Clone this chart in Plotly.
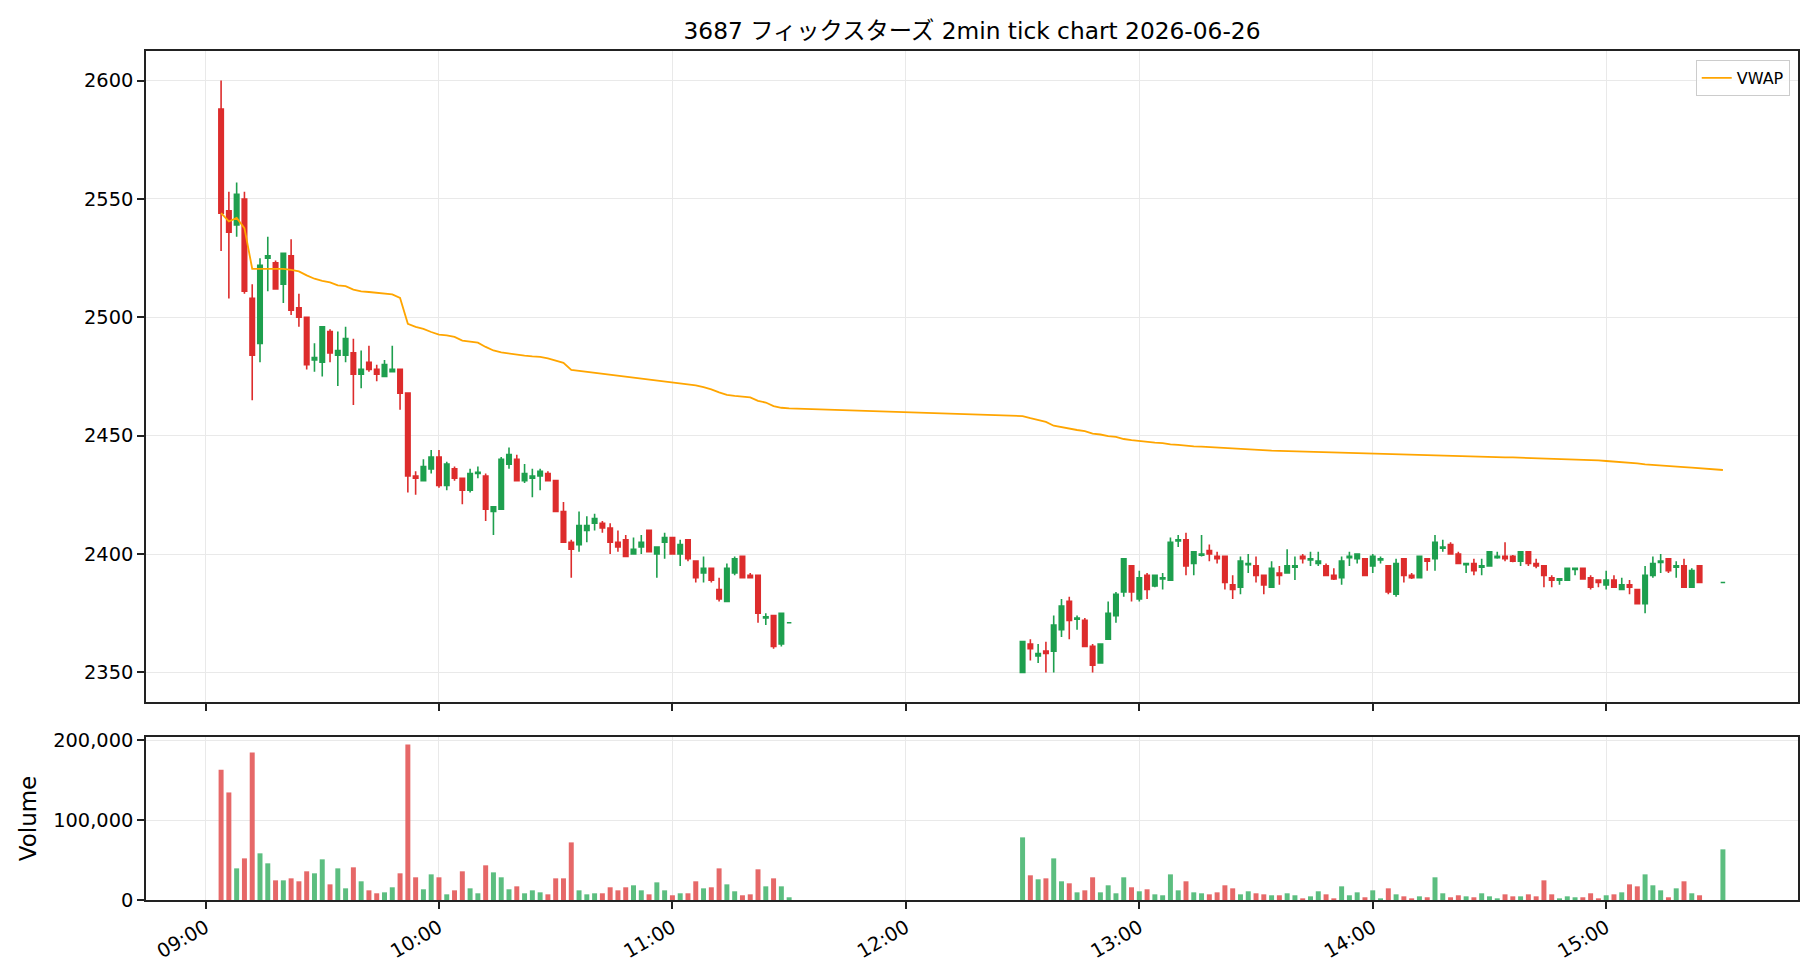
import plotly.graph_objects as go
import pandas as pd

DATE = "2026-06-26"
TITLE = "3687 フィックスターズ 2min tick chart 2026-06-26"

# --- session time stamps (2-minute bars) ---
morning_times = list(pd.date_range(f"{DATE} 09:04", f"{DATE} 11:30", freq="2min"))
afternoon_times = list(pd.date_range(f"{DATE} 12:30", f"{DATE} 15:24", freq="2min")) + [pd.Timestamp(f"{DATE} 15:30")]

# --- morning OHLC ---
m_open = [2588, 2545, 2539, 2550, 2508, 2489, 2525, 2523, 2514, 2526,
          2504, 2500, 2482, 2481, 2494, 2484, 2484, 2485, 2476, 2481,
          2478, 2475, 2477, 2478, 2468, 2433, 2431, 2436, 2441, 2429,
          2436, 2432, 2427, 2434, 2433, 2418, 2419, 2438, 2440, 2431,
          2432, 2433, 2434, 2431, 2418, 2405, 2404, 2410, 2413, 2413,
          2411, 2405, 2406, 2400, 2403, 2410, 2400, 2405, 2407, 2400,
          2406, 2397, 2392, 2394, 2385, 2380, 2392, 2399, 2391, 2391,
          2373, 2374, 2362, 2371]
m_high = [2600, 2553, 2557, 2553, 2514, 2525, 2534, 2524, 2527, 2533,
          2510, 2500, 2489, 2496, 2495, 2494, 2496, 2491, 2486, 2488,
          2480, 2482, 2488, 2478, 2468, 2435, 2440, 2444, 2444, 2439,
          2437, 2432, 2436, 2437, 2434, 2420, 2441, 2445, 2442, 2438,
          2436, 2436, 2435, 2431, 2422, 2406, 2418, 2416, 2417, 2414,
          2413, 2410, 2408, 2407, 2408, 2410, 2403, 2409, 2407, 2406,
          2406, 2397, 2399, 2394, 2390, 2396, 2399, 2399, 2392, 2391,
          2375, 2374, 2375, 2371]
m_low = [2528, 2508, 2534, 2510, 2465, 2481, 2511, 2512, 2506, 2501,
         2496, 2478, 2477, 2475, 2481, 2471, 2481, 2463, 2470, 2477,
         2473, 2475, 2477, 2461, 2426, 2425, 2431, 2434, 2428, 2427,
         2431, 2421, 2426, 2432, 2414, 2408, 2419, 2436, 2431, 2430,
         2424, 2427, 2431, 2418, 2405, 2390, 2401, 2405, 2410, 2409,
         2400, 2401, 2399, 2400, 2400, 2401, 2390, 2398, 2400, 2395,
         2397, 2388, 2388, 2388, 2380, 2380, 2391, 2390, 2390, 2371,
         2370, 2360, 2361, 2371]
m_close = [2544, 2536, 2552, 2511, 2484, 2522, 2526, 2512, 2527, 2503,
           2500, 2480, 2483, 2496, 2485, 2486, 2491, 2476, 2478, 2478,
           2476, 2480, 2478, 2468, 2433, 2432, 2437, 2441, 2429, 2438,
           2432, 2427, 2434, 2434.5, 2419, 2420, 2440, 2442, 2431, 2434,
           2433, 2435, 2431, 2418, 2405, 2402, 2412, 2412, 2415, 2411,
           2405, 2403, 2399, 2402, 2405, 2401, 2403, 2407, 2400, 2404,
           2398, 2390, 2394, 2389, 2381, 2394, 2398, 2390, 2390, 2375,
           2373.5, 2361, 2375, 2371]
m_volume = [163000, 134600, 39600, 52100, 184600, 58400, 45900, 24600, 24600, 27100,
            23400, 35900, 33400, 50900, 19600, 39600, 14600, 40900, 23400, 12100,
            8400, 9600, 15900, 33400, 194600, 28400, 13400, 32100, 28400, 7100,
            12100, 35900, 14600, 8400, 43400, 34600, 28400, 13400, 17100, 8400,
            12100, 9600, 7100, 27100, 27100, 72100, 12100, 7100, 8400, 8400,
            15900, 12100, 15900, 18400, 12100, 7100, 22100, 12100, 5900, 8400,
            8400, 23400, 14600, 15900, 39600, 19600, 10900, 5900, 7100, 38400,
            17100, 27100, 17100, 3400]
m_vwap = [2544.0, 2540.5, 2542.0, 2537.7, 2520.5, 2520.5, 2520.8, 2520.6, 2520.5, 2520.0,
          2519.4, 2517.7, 2516.3, 2515.4, 2514.8, 2513.5, 2513.2, 2511.7, 2511.0, 2510.7,
          2510.4, 2510.3, 2509.7, 2508.2, 2497.3, 2496.0, 2495.1, 2493.8, 2492.7, 2492.4,
          2491.7, 2490.2, 2489.6, 2489.3, 2487.5, 2486.0, 2485.2, 2484.7, 2484.1, 2483.8,
          2483.5, 2483.3, 2482.7, 2481.7, 2480.8, 2477.8, 2477.4, 2477.1, 2476.7, 2476.4,
          2476.0, 2475.6, 2475.2, 2474.8, 2474.3, 2473.9, 2473.4, 2473.0, 2472.6, 2472.3,
          2472.0, 2471.3, 2470.5, 2469.6, 2468.3, 2467.2, 2466.8, 2466.5, 2466.2, 2464.7,
          2464.0, 2462.5, 2461.8, 2461.5]

# --- afternoon OHLC ---
a_open = [2350, 2362, 2357, 2359, 2359, 2368, 2380, 2372.5, 2372, 2361,
          2354, 2364, 2374, 2384, 2395, 2381, 2391, 2386.5, 2389.5, 2389,
          2405.5, 2406, 2396, 2399.5, 2401.5, 2399, 2399, 2387, 2386, 2395.5,
          2395, 2391, 2386, 2392, 2392, 2394.5, 2399, 2397.5, 2396, 2395,
          2391, 2390, 2398.5, 2398, 2398, 2395, 2397.5, 2395, 2383, 2398,
          2391, 2390, 2398, 2398, 2402.5, 2404, 2400, 2395.5, 2396, 2394.5,
          2395, 2398.5, 2399, 2399, 2397, 2401, 2396, 2395, 2390, 2389,
          2389, 2393.5, 2394, 2390, 2389, 2387, 2389, 2385, 2387, 2385,
          2379, 2391, 2396.5, 2398, 2394.5, 2395, 2386, 2395, 2388]
a_high = [2363, 2364, 2362, 2363, 2374, 2381, 2382, 2374, 2373, 2362,
          2362, 2380, 2384, 2398, 2395, 2393, 2392, 2391, 2392, 2407,
          2408, 2409, 2401, 2408, 2404, 2401, 2399, 2391, 2399, 2400,
          2399, 2391, 2397, 2395, 2402, 2399, 2400, 2401, 2401, 2396,
          2394, 2399, 2401, 2400, 2398, 2400, 2399, 2395, 2398, 2398,
          2392, 2399, 2398, 2408, 2406, 2405, 2401, 2396, 2398, 2398,
          2401, 2401, 2405, 2399.6, 2401, 2401, 2398, 2395, 2391, 2389.5,
          2394, 2394, 2394, 2391, 2389, 2393, 2391, 2390, 2389, 2385,
          2395, 2399, 2400, 2398, 2397, 2398, 2394, 2395, 2388]
a_low = [2350, 2355, 2354, 2350, 2350, 2365, 2364, 2368, 2361, 2350,
         2354, 2364, 2371, 2382, 2380, 2380, 2381, 2386, 2385, 2389,
         2403, 2391, 2391, 2399, 2397, 2396, 2385, 2381, 2383, 2392,
         2388, 2383, 2386, 2387, 2392, 2389, 2396, 2395, 2395, 2391,
         2389, 2387, 2395, 2396, 2391, 2392, 2396, 2383, 2382, 2388,
         2389.5, 2390, 2393, 2393, 2401, 2400, 2396, 2392, 2391, 2391,
         2395, 2398, 2397, 2396.5, 2395, 2395, 2394, 2386, 2386, 2387,
         2389, 2391, 2389.5, 2385, 2386, 2385, 2386, 2385, 2383, 2379,
         2375, 2390, 2392, 2392, 2390, 2386, 2386, 2388, 2388]
a_close = [2363, 2360, 2358, 2358, 2370, 2378, 2372, 2373, 2361, 2353,
           2362, 2375, 2383, 2398, 2384, 2390, 2385, 2391, 2390, 2405,
           2406, 2395, 2401, 2400, 2400, 2398, 2388, 2385, 2397, 2396,
           2391, 2387, 2394, 2391, 2395, 2395, 2398, 2398, 2397, 2391,
           2389.5, 2397, 2399, 2400, 2391, 2399, 2398, 2384, 2396, 2391,
           2390, 2399, 2397, 2405, 2403, 2400, 2396, 2396, 2393, 2395,
           2401, 2399, 2398, 2397, 2401, 2396, 2395, 2391, 2389, 2389.5,
           2394, 2394, 2389.5, 2386, 2388, 2389, 2386, 2387, 2386, 2379,
           2391, 2396, 2397, 2393, 2395, 2386, 2393, 2388, 2388]
a_volume = [78400, 30900, 25900, 27100, 52100, 23400, 20900, 9600, 12100, 28400,
            9600, 18400, 8400, 28400, 15900, 10900, 13400, 7100, 5900, 32100,
            12100, 23400, 9600, 8400, 7100, 9600, 18400, 14600, 7100, 10900,
            8400, 7100, 5900, 5900, 8400, 5900, 2100, 4600, 10900, 7100,
            2100, 17100, 5900, 9600, 3400, 12100, 2100, 14600, 7100, 4600,
            2100, 4600, 3400, 28400, 8400, 3400, 5900, 4600, 3400, 8400,
            4600, 2100, 7100, 4600, 4600, 7100, 4600, 24600, 7100, 2100,
            4600, 3400, 3400, 8400, 2100, 5900, 7100, 9600, 19600, 17100,
            32100, 18400, 12100, 3400, 14600, 23400, 8400, 5900, 63400]
a_vwap = [2458.3, 2457.4, 2456.6, 2455.8, 2454.2, 2453.5, 2452.8, 2452.4, 2451.9, 2450.9,
          2450.5, 2449.8, 2449.5, 2448.6, 2448.1, 2447.7, 2447.3, 2447.1, 2446.9, 2446.3,
          2446.1, 2445.7, 2445.5, 2445.4, 2445.2, 2445.0, 2444.7, 2444.4, 2444.3, 2444.1,
          2444.0, 2443.8, 2443.7, 2443.6, 2443.5, 2443.4, 2443.4, 2443.3, 2443.1, 2443.0,
          2443.0, 2442.8, 2442.7, 2442.6, 2442.6, 2442.4, 2442.4, 2442.1, 2442.0, 2441.9,
          2441.9, 2441.8, 2441.8, 2441.4, 2441.3, 2441.3, 2441.2, 2441.1, 2441.1, 2441.0,
          2440.9, 2440.9, 2440.8, 2440.8, 2440.7, 2440.6, 2440.6, 2440.2, 2440.1, 2440.1,
          2440.0, 2440.0, 2439.9, 2439.8, 2439.6, 2439.3, 2439.1, 2438.9, 2438.6, 2438.3,
          2437.9, 2437.6, 2437.3, 2437.2, 2437.0, 2436.7, 2436.5, 2436.3, 2435.5]

hour_ticks = ["09:00", "10:00", "11:00", "12:00", "13:00", "14:00", "15:00"]
price_ticks = [2350, 2400, 2450, 2500, 2550, 2600]
volume_ticks = [0, 100000, 200000]

# --- combine sessions ---
times = morning_times + afternoon_times
o = m_open + a_open
h = m_high + a_high
l = m_low + a_low
c = m_close + a_close
vol = m_volume + a_volume
vwap = m_vwap + a_vwap

UP = "#1e9f4e"
DOWN = "#dd2c2c"
UP_V = "#5cbe80"
DOWN_V = "#e66868"

up_idx = [i for i in range(len(times)) if c[i] >= o[i]]
dn_idx = [i for i in range(len(times)) if c[i] < o[i]]

fig = go.Figure()

for idx, col in ((up_idx, UP), (dn_idx, DOWN)):
    fig.add_trace(go.Candlestick(
        x=[times[i] for i in idx],
        open=[o[i] for i in idx], high=[h[i] for i in idx],
        low=[l[i] for i in idx], close=[c[i] for i in idx],
        increasing=dict(line=dict(color=col, width=1.6), fillcolor=col),
        decreasing=dict(line=dict(color=col, width=1.6), fillcolor=col),
        whiskerwidth=0, showlegend=False, xaxis="x", yaxis="y",
    ))

fig.add_trace(go.Scatter(
    x=times, y=vwap, mode="lines", name="VWAP",
    line=dict(color="#FFA500", width=1.8), xaxis="x", yaxis="y",
))

fig.add_trace(go.Bar(
    x=times, y=vol, width=76800,
    marker=dict(color=[UP_V if c[i] >= o[i] else DOWN_V for i in range(len(times))], line=dict(width=0)),
    showlegend=False, xaxis="x2", yaxis="y2",
))

x_range = [f"{DATE} 08:44:42", f"{DATE} 15:49:18"]
tickvals = [f"{DATE} {t}" for t in hour_ticks]
GRID = "#e9e9e9"
axis_common = dict(showline=True, mirror=True, linecolor="#222222", linewidth=1.5,
                   ticks="outside", ticklen=7, tickwidth=1.5, tickcolor="#222222",
                   showgrid=True, gridcolor=GRID, gridwidth=1.2, zeroline=False)

fig.update_layout(
    width=1820, height=980,
    margin=dict(l=146, r=22, t=51, b=80),
    paper_bgcolor="white", plot_bgcolor="white",
    font=dict(family="DejaVu Sans, Noto Sans CJK JP, sans-serif", size=19.4, color="black"),
    boxgap=0.18,
    title=dict(text=TITLE, x=0.5, xref="paper", xanchor="center",
               y=1 - 31 / 980, yref="container", yanchor="middle",
               font=dict(size=23.3)),
    legend=dict(x=0.995, xanchor="right", y=0.9894, yanchor="top",
                bordercolor="#cccccc", borderwidth=1, bgcolor="rgba(255,255,255,0.85)",
                font=dict(size=16), itemwidth=30),
    xaxis=dict(domain=[0, 1], anchor="y", type="date", range=x_range, matches="x2",
               tickvals=tickvals, showticklabels=False,
               rangeslider=dict(visible=False), **axis_common),
    yaxis=dict(domain=[0.2332, 1], anchor="x", range=[2337.5, 2612.5],
               tickvals=price_ticks, **axis_common),
    xaxis2=dict(domain=[0, 1], anchor="y2", type="date", range=x_range,
                tickvals=tickvals, ticktext=hour_ticks, tickangle=-30, **axis_common),
    yaxis2=dict(domain=[0, 0.192], anchor="x2", range=[0, 204000],
                tickvals=volume_ticks, ticktext=["0", "100,000", "200,000"],
                title=dict(text="Volume", standoff=10), **axis_common),
)

fig.write_html("out.html")
